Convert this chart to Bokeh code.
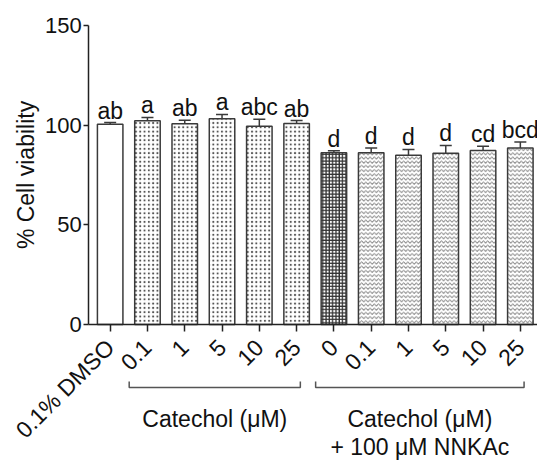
import math
from bokeh.plotting import figure
from bokeh.models import (ColumnDataSource, Range1d, FixedTicker, LabelSet,
                          Whisker, TeeHead)
from bokeh.core.properties import value
from bokeh.embed import file_html
from bokeh.resources import INLINE

# ---- data ----
tick_labels = ["0.1% DMSO", "0.1", "1", "5", "10", "25", "0", "0.1", "1", "5", "10", "25"]
values = [100.5, 102.2, 100.7, 103.2, 99.5, 100.8, 86.1, 86.1, 84.9, 85.9, 87.3, 88.6]
errors = [0.8, 1.7, 1.7, 2.2, 3.5, 1.5, 1.0, 2.5, 2.9, 3.9, 2.1, 3.0]
letters = ["ab", "a", "ab", "a", "abc", "ab", "d", "d", "d", "d", "cd", "bcd"]
group_members = [[1, 2, 3, 4, 5], [6, 7, 8, 9, 10, 11]]
group_lines = [["Catechol (\u03bcM)"], ["Catechol (\u03bcM)", "+ 100 \u03bcM NNKAc"]]
y_ticks = [0, 50, 100, 150]

FONT = "Liberation Sans"
INK = "#111111"
EDGE = "#3a3a3a"
AX = "#222222"

xs = list(range(len(values)))
uppers = [v + e for v, e in zip(values, errors)]
src = ColumnDataSource(dict(x=xs, value=values, upper=uppers, letter=letters))

X0, X1 = -0.574, 11.46          # visible extent of the x axis line
p = figure(width=537, height=461, output_backend="svg", toolbar_location=None,
           x_range=Range1d(-2.941, 11.46), y_range=Range1d(-68.74, 162.54),
           min_border_left=0, min_border_right=0, min_border_top=0, min_border_bottom=0)
p.outline_line_color = None
p.xgrid.visible = False
p.ygrid.visible = False
p.background_fill_color = "white"

def sub(idx):
    return ColumnDataSource(dict(x=[xs[i] for i in idx], top=[values[i] for i in idx]))

W = 0.684
p.vbar(x="x", top="top", width=W, source=sub([0]), fill_color="white",
       line_color=EDGE, line_width=1.5)
p.vbar(x="x", top="top", width=W, source=sub([1, 2, 3, 4, 5]), fill_color="white",
       line_color=EDGE, line_width=1.5, hatch_pattern="dot", hatch_color="#555555",
       hatch_scale=4.3, hatch_weight=0.6)
p.vbar(x="x", top="top", width=W, source=sub([6]), fill_color="white",
       line_color=EDGE, line_width=1.5, hatch_pattern="cross", hatch_color="#333333",
       hatch_scale=3.3, hatch_weight=1.3)
p.vbar(x="x", top="top", width=W, source=sub([7, 8, 9, 10, 11]), fill_color="white",
       line_color=EDGE, line_width=1.5, hatch_pattern="horizontal_wave", hatch_color="#888888",
       hatch_scale=4.2, hatch_weight=1)

# error bars (upper only)
p.add_layout(Whisker(source=src, base="x", lower="value", upper="upper", dimension="height",
                     line_color=EDGE, line_width=1.5, lower_head=None,
                     upper_head=TeeHead(size=12, line_color=EDGE, line_width=1.5)))

# significance letters
p.add_layout(LabelSet(source=src, x="x", y="upper", text="letter", y_offset=4,
                      text_align="center", text_baseline="alphabetic",
                      text_font_size="23px", text_font=value(FONT), text_color=INK))

# y axis, pinned at the left end of the x axis
p.yaxis.fixed_location = X0
p.yaxis.bounds = (0, 150)
p.yaxis.ticker = FixedTicker(ticks=y_ticks)
p.yaxis.axis_label = "% Cell viability"
p.yaxis.axis_label_text_font_style = "normal"
p.yaxis.axis_label_text_font = FONT
p.yaxis.axis_label_text_font_size = "23px"
p.yaxis.axis_label_text_color = INK
p.yaxis.axis_label_standoff = 3
p.yaxis.major_label_text_font = FONT
p.yaxis.major_label_text_font_size = "22px"
p.yaxis.major_label_text_color = INK
p.yaxis.major_label_standoff = 2
p.yaxis.major_tick_out = 5
p.yaxis.major_tick_in = 0
p.yaxis.minor_tick_line_color = None
p.yaxis.axis_line_width = 1.5
p.yaxis.axis_line_color = AX
p.yaxis.major_tick_line_width = 1.5
p.yaxis.major_tick_line_color = AX

# x axis, pinned at y = 0
p.xaxis.fixed_location = 0
p.xaxis.bounds = (X0, X1)
p.xaxis.ticker = FixedTicker(ticks=xs)
p.xaxis.major_label_overrides = {i: t for i, t in zip(xs, tick_labels)}
p.xaxis.major_label_orientation = math.pi / 4
p.xaxis.major_label_text_font = FONT
p.xaxis.major_label_text_font_size = "23px"
p.xaxis.major_label_text_color = INK
p.xaxis.major_label_standoff = 12
p.xaxis.major_tick_out = 7
p.xaxis.major_tick_in = 0
p.xaxis.minor_tick_line_color = None
p.xaxis.axis_line_width = 1.5
p.xaxis.axis_line_color = AX
p.xaxis.major_tick_line_width = 1.5
p.xaxis.major_tick_line_color = AX

# group brackets and group labels (below the tick labels)
BR = "#555555"
Y_BAR, Y_TIP = -31.6, -28.6
LEFT_PAD, RIGHT_PAD = 0.49, 0.10
bx, by, tx, ty, tt = [], [], [], [], []
for members, lines in zip(group_members, group_lines):
    a = members[0] - LEFT_PAD
    b = members[-1] + RIGHT_PAD
    bx.append([a, a, b, b])
    by.append([Y_TIP, Y_BAR, Y_BAR, Y_TIP])
    for k, line in enumerate(lines):
        tx.append((a + b) / 2)
        ty.append(-47.6 - 13.8 * k)
        tt.append(line)
p.multi_line(xs=bx, ys=by, line_color=BR, line_width=1.5)
p.text(x=tx, y=ty, text=tt, text_align="center", text_baseline="middle",
       text_font=value(FONT), text_font_size="23px", text_color=INK)

open("out.html", "w").write(file_html(p, INLINE))
